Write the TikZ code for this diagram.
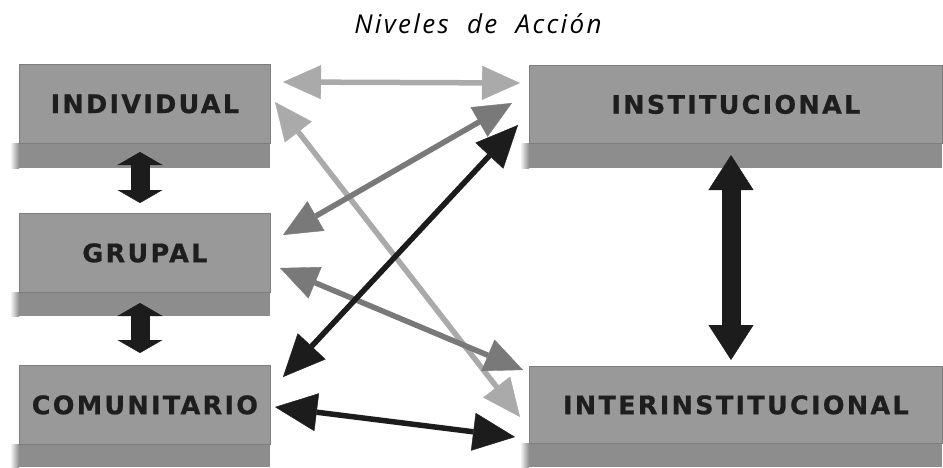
\documentclass[tikz,border=0pt]{standalone}
\usepackage{fontspec}
\newfontfamily\boxfont{DejaVu Sans}[LetterSpace=9, BoldFeatures={FakeBold=0.8}]
\newfontfamily\titlefont{Open Sans}[LetterSpace=9]
\usetikzlibrary{arrows.meta}
\definecolor{boxfill}{HTML}{999999}
\definecolor{boxline}{HTML}{7E7E7E}
\definecolor{shadowc}{HTML}{8D8D8D}
\definecolor{lightc}{HTML}{AAAAAA}
\definecolor{midc}{HTML}{797979}
\definecolor{darkc}{HTML}{1C1C1C}
\definecolor{textc}{HTML}{1E1E1E}
\begin{document}
\begin{tikzpicture}[x=1pt,y=-1pt,
  box/.style={draw=boxline, line width=0.8pt, fill=boxfill, inner sep=0pt, anchor=north west,
    text=textc, font=\boxfont\bfseries\fontsize{25.5}{29}\selectfont},
  thin arrow/.style={line width=5.5pt, {Triangle[length=38pt,width=34pt,line width=0.4pt]}-{Triangle[length=38pt,width=34pt,line width=0.4pt]}},
  dark arrow/.style={line width=5.5pt, darkc, {Triangle[length=42pt,width=38pt,line width=0.4pt]}-{Triangle[length=42pt,width=38pt,line width=0.4pt]}},
  fat short/.style={line width=19pt, darkc, {Triangle[length=13pt,width=45pt,line width=0.4pt]}-{Triangle[length=13pt,width=45pt,line width=0.4pt]}},
  fat long/.style={line width=19pt, darkc, {Triangle[length=35pt,width=45pt,line width=0.4pt]}-{Triangle[length=35pt,width=45pt,line width=0.4pt]}}
]
\useasboundingbox (0,0) rectangle (943,467);
\fill[white] (0,0) rectangle (943,467);

% title
\node[font=\titlefont\itshape\fontsize{26}{30}\selectfont, text=black] (title) at (478,24) {Niveles\ \ de\ \ Acción};

% shadows
\foreach \xa/\xb/\ya/\yb in {19/270/143/168, 19/270/292/316, 19/270/444/467, 529/942/143/168, 529/942/443/467}{
  \fill[shadowc] (\xa,\ya) rectangle (\xb,\yb);
  \shade[left color=white, right color=shadowc] (\xa-9,\ya) rectangle (\xa,\yb);
}

% boxes
\node[box, minimum width=251pt, minimum height=79pt] (ind) at (19,64) {INDIVIDUAL};
\node[box, minimum width=251pt, minimum height=79pt] (grp) at (19,213) {GRUPAL};
\node[box, minimum width=251pt, minimum height=79pt] (com) at (19,365) {COMUNITARIO};
\node[box, minimum width=413pt, minimum height=78pt] (ins) at (529,65) {INSTITUCIONAL};
\node[box, minimum width=413pt, minimum height=77pt] (int) at (529,366) {INTERINSTITUCIONAL};

% arrow end points
\coordinate (indR1) at (283,82);
\coordinate (insL1) at (520,83);
\coordinate (indR2) at (275,102);
\coordinate (intL2) at (520,417);
\coordinate (insL3) at (512,103);
\coordinate (grpR3) at (283,235);
\coordinate (grpR4) at (280,268);
\coordinate (intL4) at (523,370);
\coordinate (insL5) at (518,125);
\coordinate (comR5) at (283,377);
\coordinate (comR6) at (275,407);
\coordinate (intL6) at (515,437);
\coordinate (indB) at (140,152);
\coordinate (grpT) at (140,203);
\coordinate (grpB) at (140,303);
\coordinate (comT) at (140,353);
\coordinate (insB) at (731,155);
\coordinate (intT) at (731,360);

% connectors
\draw[thin arrow, lightc] (indR1) -- (insL1);
\draw[thin arrow, lightc] (indR2) -- (intL2);
\draw[thin arrow, midc] (insL3) -- (grpR3);
\draw[thin arrow, midc] (grpR4) -- (intL4);
\draw[dark arrow] (comR5) -- (insL5);
\draw[dark arrow] (comR6) -- (intL6);
\draw[fat short] (indB) -- (grpT);
\draw[fat short] (grpB) -- (comT);
\draw[fat long] (insB) -- (intT);
\end{tikzpicture}
\end{document}
